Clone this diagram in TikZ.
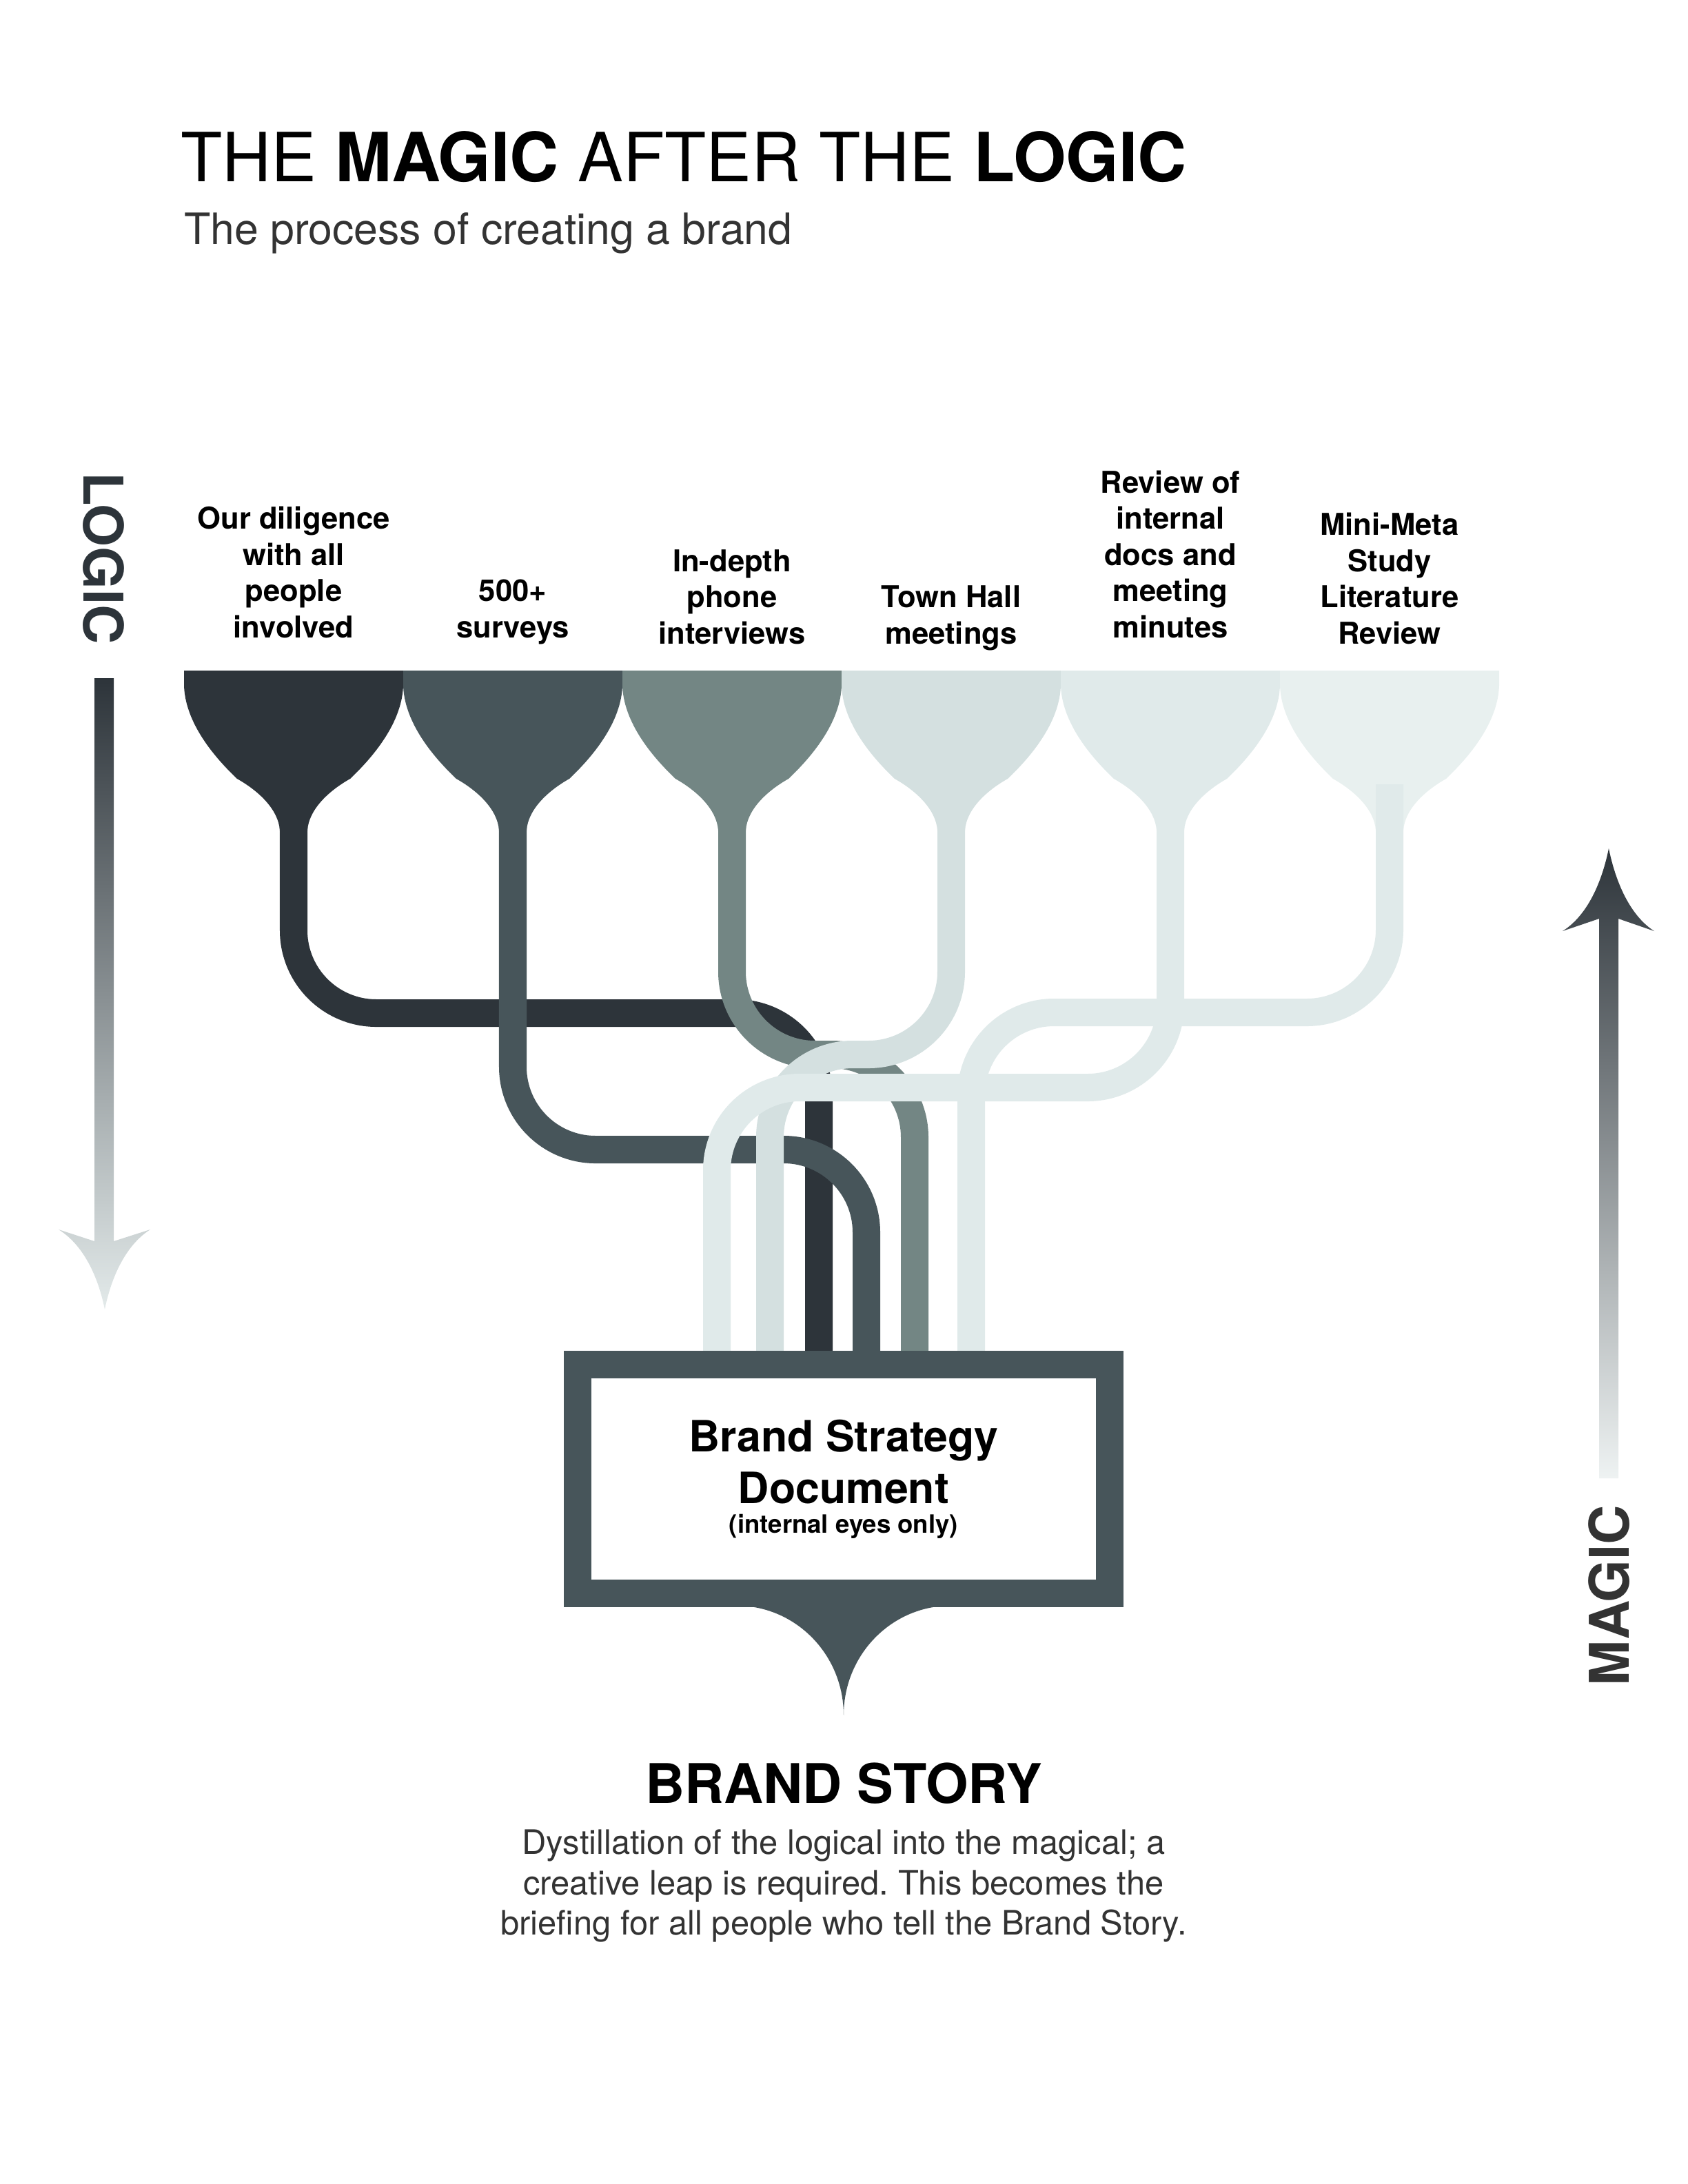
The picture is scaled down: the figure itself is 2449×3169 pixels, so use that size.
\documentclass[tikz,border=0pt]{standalone}
\usepackage{fontspec}
\setmainfont{TeX Gyre Heros}
\frenchspacing
\definecolor{tone1}{HTML}{2D343A}
\definecolor{tone2}{HTML}{47555A}
\definecolor{tone3}{HTML}{738684}
\definecolor{tone4}{HTML}{D4E0E0}
\definecolor{tone5}{HTML}{E0EAEA}
\definecolor{tone6}{HTML}{E8F0EF}
\definecolor{ink}{HTML}{333333}
\definecolor{fade}{HTML}{E3EAEA}
\begin{document}
\begin{tikzpicture}[x=0.01cm, y=-0.01cm,
  every node/.style = {inner sep=0pt, outer sep=0pt},
  pipe/.style   = {line width=0.4cm, rounded corners=1.2cm},
  source/.style = {font=\bfseries\fontsize{12.4}{14.9}\selectfont,
    align=center, anchor=base},
  docbox/.style = {draw=tone2, line width=0.4cm, fill=white,
    minimum width=7.72cm, minimum height=3.32cm, align=center,
    font=\bfseries\fontsize{17.8}{21.3}\selectfont},
  side/.style   = {font=\bfseries\fontsize{22.6}{26}\selectfont}]
\useasboundingbox (0,0) rectangle (2449,3169);
% heading
\node[anchor=base west, font=\fontsize{28}{33}\selectfont] (title) at (262,263)
  {THE \textbf{MAGIC} AFTER THE \textbf{LOGIC}};
\node[anchor=base west, text=ink, font=\fontsize{17.8}{21}\selectfont] (subtitle) at (267,354)
  {The process of creating a brand};
% funnels
\foreach \cx/\col in {426/tone1, 744/tone2, 1062/tone3, 1380/tone4, 1698/tone5, 2016/tone6}
  \fill[\col, shift={(\cx,0)}] (-159,973) -- (-159,995)
    .. controls (-157,1055) and (-105,1108) .. (-82,1130)
    .. controls (-50,1148) and (-22,1175) .. (-20,1205) -- (20,1205)
    .. controls (22,1175) and (50,1148) .. (82,1130)
    .. controls (105,1108) and (157,1055) .. (159,995) -- (159,973) -- cycle;
\node[source] (src1) at (426,925)  {Our diligence\\with all\\people\\involved};
\node[source] (src2) at (744,925)  {500+\\surveys};
\node[source] (src3) at (1062,934) {In-depth\\phone\\interviews};
\node[source] (src4) at (1380,934) {Town Hall\\meetings};
\node[source] (src5) at (1698,925) {Review of\\internal\\docs and\\meeting\\minutes};
\node[source] (src6) at (2016,934) {Mini-Meta\\Study\\Literature\\Review};
% pipes
\coordinate (s1) at (426,1200);
\coordinate (s2) at (744,1200);
\coordinate (s3) at (1062,1200);
\coordinate (s4) at (1380,1200);
\coordinate (s5) at (1698,1200);
\coordinate (s6) at (2016,1138);
\coordinate (e1) at (1188,1990);
\coordinate (e2) at (1257,1990);
\coordinate (e3) at (1327,1990);
\coordinate (e4) at (1117,1990);
\coordinate (e5) at (1040,1990);
\coordinate (e6) at (1409,1990);
\draw[pipe, tone1] (s1) -- ++(0,270) -| (e1);
\draw[pipe, tone2] (s2) -- ++(0,468) -| (e2);
\draw[pipe, tone3] (s3) -- ++(0,330) -| (e3);
\draw[pipe, tone4] (s4) -- ++(0,330) -| (e4);
\draw[pipe, tone5] (s6) -- ++(0,331) -| (e6);
\draw[pipe, tone5] (s5) -- ++(0,378) -| (e5);
% document
\fill[tone2] (1076,2330) .. controls (1158,2334) and (1224,2403) .. (1224,2489)
  .. controls (1224,2403) and (1290,2334) .. (1372,2330) -- cycle;
\node[docbox] (doc) at (1224,2146)
  {Brand Strategy\\Document\\[-9pt]{\fontsize{10.4}{12}\selectfont (internal eyes only)}};
\node[font=\bfseries\fontsize{22.5}{27}\selectfont, anchor=base] (story) at (1224,2616) {BRAND STORY};
\node[font=\fontsize{13.9}{16.5}\selectfont, text=ink, align=center, anchor=base] (blurb) at (1224,2807)
  {Dystillation of the logical into the magical; a\\creative leap is required. This becomes the\\briefing for all people who tell the Brand Story.};
% side arrows
\shade[top color=tone1, bottom color=fade] (137,984) -- (165,984) -- (165,1801) -- (218,1784)
  .. controls (179,1809) and (160,1860) .. (152,1900)
  .. controls (144,1860) and (125,1809) .. (85,1784) -- (137,1801) -- cycle;
\node[side, text=tone1, rotate=-90] (logic) at (150,810) {LOGIC};
\shade[top color=tone1, bottom color=fade!60!white] (2320,2145) -- (2320,1333) -- (2267,1351)
  .. controls (2307,1326) and (2326,1271) .. (2334,1231)
  .. controls (2342,1271) and (2361,1326) .. (2400,1351) -- (2348,1333) -- (2348,2145) -- cycle;
\node[side, text=ink, rotate=90] (magic) at (2335,2315) {MAGIC};
\end{tikzpicture}
\end{document}
